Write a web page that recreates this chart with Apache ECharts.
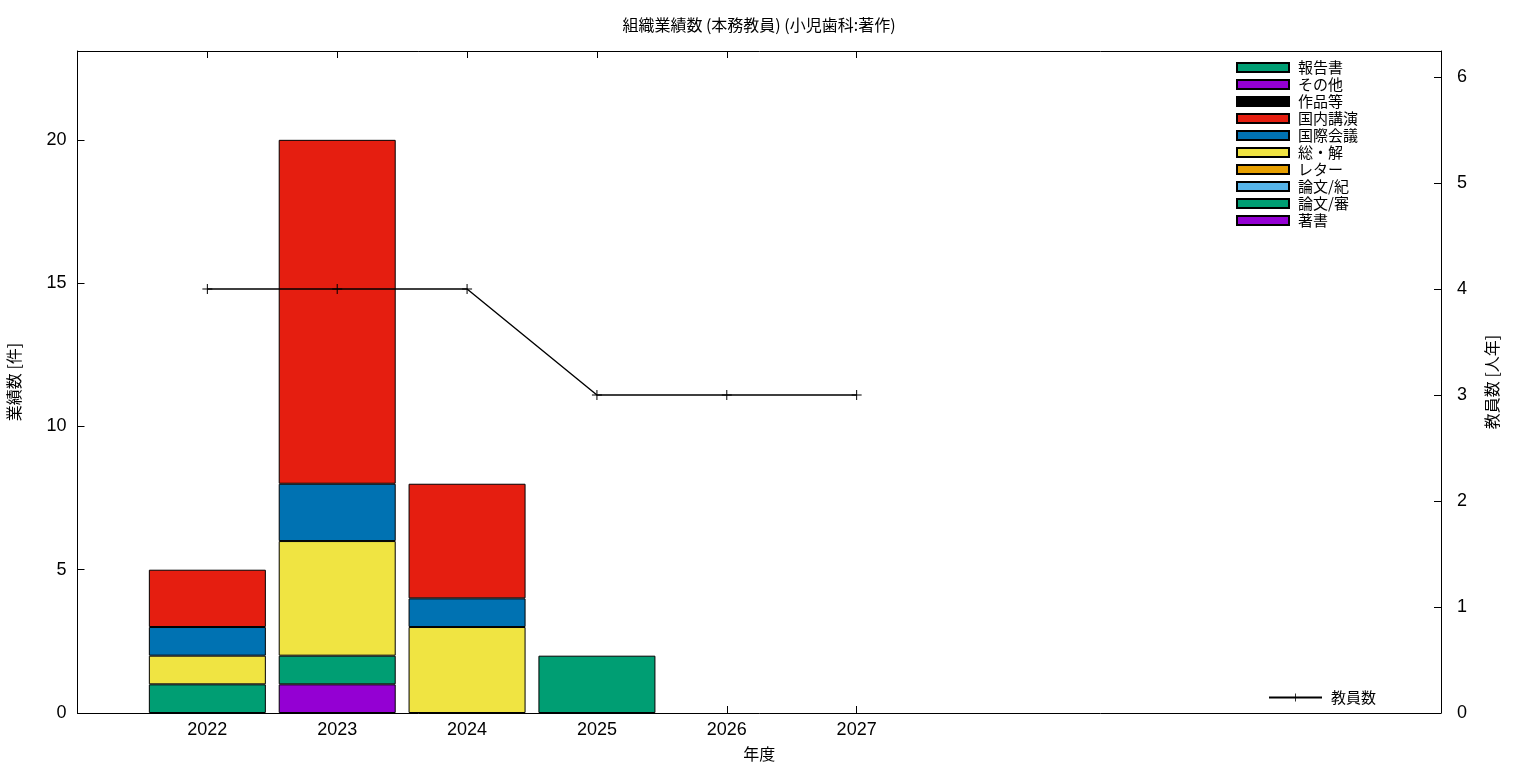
<!DOCTYPE html>
<html><head><meta charset="utf-8">
<script src="https://cdn.jsdelivr.net/npm/echarts@6/dist/echarts.min.js"></script>
<style>html,body{margin:0;padding:0;background:#fff}#c{width:1536px;height:768px}</style>
</head><body><div id="c"></div>
<script>
const years = [2022, 2023, 2024, 2025, 2026, 2027];
// stack order bottom -> top
const seriesNames = ['著書', '論文/審', '論文/紀', 'レター', '総・解', '国際会議', '国内講演', '作品等', 'その他', '報告書'];
const seriesColors = ['#9400d3', '#009e73', '#56b4e9', '#e69f00', '#f0e442', '#0072b2', '#e51e10', '#000000', '#9400d3', '#009e73'];
const v_chosho   = [0, 1, 0, 0, 0, 0];
const v_ronshin  = [1, 1, 0, 2, 0, 0];
const v_ronki    = [0, 0, 0, 0, 0, 0];
const v_letter   = [0, 0, 0, 0, 0, 0];
const v_sokai    = [1, 4, 3, 0, 0, 0];
const v_kokusai  = [1, 2, 1, 0, 0, 0];
const v_kokunai  = [2, 12, 4, 0, 0, 0];
const v_sakuhin  = [0, 0, 0, 0, 0, 0];
const v_sonota   = [0, 0, 0, 0, 0, 0];
const v_hokoku   = [0, 0, 0, 0, 0, 0];
const staff = [4, 4, 4, 3, 3, 3];
const leftTicks = [0, 5, 10, 15, 20];
const rightTicks = [0, 1, 2, 3, 4, 5, 6];

const seriesValues = [v_chosho, v_ronshin, v_ronki, v_letter, v_sokai, v_kokusai, v_kokunai, v_sakuhin, v_sonota, v_hokoku];
const X_MIN = 2021, X_MAX = 2031.5;
// half-year slots for the category axis so that the axis spans X_MIN..X_MAX
const slots = [];
for (let k = 0; X_MIN + k * 0.5 <= X_MAX; k++) slots.push(X_MIN + k * 0.5);
const slotOf = y => slots.indexOf(y);
const isYearSlot = idx => years.indexOf(slots[idx]) >= 0;

const FONT = '"Liberation Sans", "Noto Sans CJK JP", sans-serif';
const JFONT = '"Noto Sans CJK JP", "Liberation Sans", sans-serif';

const chart = echarts.init(document.getElementById('c'));
const barSeries = seriesNames.map((n, i) => {
  const d = slots.map(() => '-');
  years.forEach((y, j) => { if (seriesValues[i][j] !== 0) d[slotOf(y)] = seriesValues[i][j]; });
  return {
    name: n, type: 'bar', stack: 'total', xAxisIndex: 0, yAxisIndex: 0,
    barWidth: 117,
    itemStyle: { color: seriesColors[i], borderColor: '#000', borderWidth: 1 },
    data: d
  };
});
const plusPath = 'path://M-0.8,-8L0.8,-8L0.8,-0.8L8,-0.8L8,0.8L0.8,0.8L0.8,8L-0.8,8L-0.8,0.8L-8,0.8L-8,-0.8L-0.8,-0.8Z';
const lineSeries = {
  name: '教員数', type: 'line', xAxisIndex: 1, yAxisIndex: 1,
  data: years.map((y, j) => [y, staff[j]]),
  symbol: plusPath, symbolSize: 10, symbolKeepAspect: true,
  lineStyle: { color: '#000', width: 1.4 },
  itemStyle: { color: '#000' },
  z: 5
};

chart.setOption({
  animation: false,
  title: {
    text: '組織業績数 (本務教員) (小児歯科:著作)',
    left: 754, top: 12, textAlign: 'center',
    textStyle: { fontFamily: JFONT, fontSize: 16, fontWeight: 'normal', color: '#000' }
  },
  legend: [{
    data: seriesNames.slice().reverse(),
    orient: 'vertical', left: 1236, top: 59, padding: 0, itemGap: 0,
    itemWidth: 52, itemHeight: 9, icon: 'rect',
    textStyle: { fontFamily: JFONT, fontSize: 15, color: '#000', lineHeight: 17, padding: [0, 0, 0, 4] }
  }, {
    data: ['教員数'],
    left: 1268, top: 689, padding: 0, itemWidth: 53, itemHeight: 10,
    textStyle: { fontFamily: JFONT, fontSize: 15, color: '#000', lineHeight: 17, padding: [0, 0, 0, 4] }
  }],
  grid: { left: 77.5, right: 95, top: 51, bottom: 55, containLabel: false, outerBoundsMode: 'none' },
  xAxis: [{
    type: 'category', data: slots, boundaryGap: false, position: 'bottom',
    name: '年度', nameLocation: 'middle', nameGap: 33,
    nameTextStyle: { fontFamily: JFONT, fontSize: 16, color: '#000' },
    axisLine: { show: true, onZero: false, lineStyle: { color: '#000', width: 1 } },
    axisTick: { show: true, inside: true, length: 7, interval: (idx) => isYearSlot(idx), lineStyle: { color: '#000' } },
    axisLabel: { interval: (idx) => isYearSlot(idx), formatter: v => String(v), fontFamily: FONT, fontSize: 18, color: '#000', margin: 8 },
    splitLine: { show: false }
  }, {
    type: 'value', min: X_MIN, max: X_MAX, position: 'top',
    axisLine: { show: true, onZero: false, lineStyle: { color: '#000', width: 1 } },
    axisTick: { show: true, inside: true, length: 7, customValues: years, lineStyle: { color: '#000' } },
    axisLabel: { show: false },
    splitLine: { show: false }
  }],
  yAxis: [{
    type: 'value', min: 0, max: 23.1, position: 'left',
    name: '業績数 [件]', nameLocation: 'middle', nameGap: 56, nameRotate: 90,
    nameTextStyle: { fontFamily: JFONT, fontSize: 16, color: '#000' },
    axisLine: { show: true, lineStyle: { color: '#000', width: 1 } },
    axisTick: { show: true, inside: true, length: 7, customValues: leftTicks, lineStyle: { color: '#000' } },
    axisLabel: { customValues: leftTicks, fontFamily: FONT, fontSize: 18, color: '#000', margin: 11 },
    splitLine: { show: false }
  }, {
    type: 'value', min: 0, max: 6.245, position: 'right',
    name: '教員数 [人年]', nameLocation: 'middle', nameGap: 43, nameRotate: 90,
    nameTextStyle: { fontFamily: JFONT, fontSize: 16, color: '#000' },
    axisLine: { show: true, lineStyle: { color: '#000', width: 1 } },
    axisTick: { show: true, inside: true, length: 7, customValues: rightTicks, lineStyle: { color: '#000' } },
    axisLabel: { customValues: rightTicks, fontFamily: FONT, fontSize: 18, color: '#000', margin: 16 },
    splitLine: { show: false }
  }],
  series: barSeries.concat([lineSeries])
});
</script></body></html>
